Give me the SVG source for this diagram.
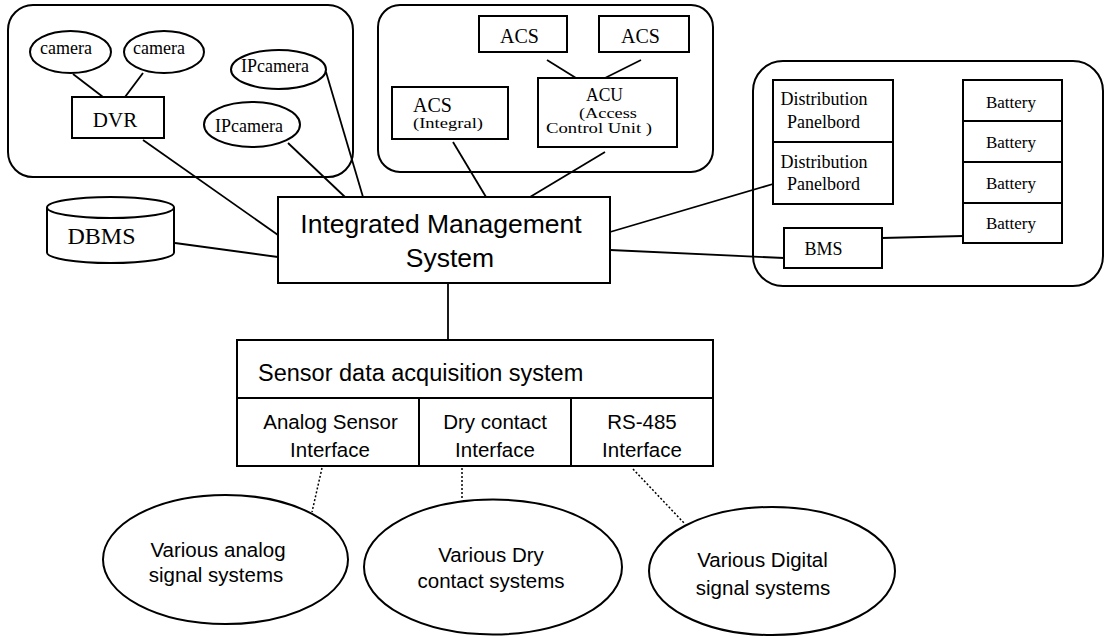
<svg xmlns="http://www.w3.org/2000/svg" width="1109" height="636" viewBox="0 0 1109 636">
<style>
.box{fill:#fff;stroke:#000;stroke-width:2}
.grp{fill:none;stroke:#000;stroke-width:2}
.ln{stroke:#000;stroke-width:1.8;fill:none}
.dot{stroke:#000;stroke-width:1.5;stroke-dasharray:2 2;fill:none}
.serif{font-family:"Liberation Serif","Times New Roman",serif;fill:#000}
.sans{font-family:"Liberation Sans",Arial,sans-serif;fill:#000}
</style>
<rect width="1109" height="636" fill="#fff"/>
<g id="group-video"><rect class="grp" x="8" y="5" width="345" height="172" rx="25"/></g>
<g id="group-access"><rect class="grp" x="378" y="5" width="335" height="167" rx="22"/></g>
<g id="group-power"><rect class="grp" x="753" y="61" width="350" height="225" rx="30"/></g>
<g id="connectors">
<line class="ln" x1="73" y1="74" x2="103" y2="97"/>
<line class="ln" x1="143" y1="73" x2="125" y2="97"/>
<line class="ln" x1="143" y1="140" x2="278" y2="235"/>
<line class="ln" x1="288" y1="143" x2="345" y2="197"/>
<line class="ln" x1="326" y1="72" x2="363" y2="197"/>
<line class="ln" x1="547" y1="60" x2="576" y2="78"/>
<line class="ln" x1="641" y1="60" x2="605" y2="78"/>
<line class="ln" x1="453" y1="142" x2="486" y2="197"/>
<line class="ln" x1="605" y1="152" x2="530" y2="197"/>
<line class="ln" x1="610" y1="232" x2="773" y2="184"/>
<line class="ln" x1="610" y1="250" x2="784" y2="258"/>
<line class="ln" x1="882" y1="238" x2="963" y2="236"/>
<line class="ln" x1="175" y1="243" x2="278" y2="257"/>
<line class="ln" x1="448" y1="283" x2="448" y2="340"/>
<line class="dot" x1="322" y1="468" x2="312" y2="512"/>
<line class="dot" x1="462" y1="468" x2="462" y2="500"/>
<line class="dot" x1="633" y1="469" x2="684" y2="523"/>
</g>
<g id="camera1"><ellipse class="box" cx="70.5" cy="52" rx="40.5" ry="21"/><text class="serif" x="66" y="54" font-size="18" text-anchor="middle">camera</text></g>
<g id="camera2"><ellipse class="box" cx="164" cy="52" rx="40" ry="21"/><text class="serif" x="159" y="54" font-size="18" text-anchor="middle">camera</text></g>
<g id="ipcamera1"><ellipse class="box" cx="278.5" cy="69.5" rx="47.5" ry="19.5"/><text class="serif" x="275" y="72" font-size="18" text-anchor="middle">IPcamera</text></g>
<g id="ipcamera2"><ellipse class="box" cx="252" cy="124.5" rx="48" ry="22.5"/><text class="serif" x="249" y="132" font-size="18" text-anchor="middle">IPcamera</text></g>
<g id="dvr"><rect class="box" x="72" y="97" width="92" height="41"/><text class="serif" x="115" y="127" font-size="21" text-anchor="middle">DVR</text></g>
<g id="acs1"><rect class="box" x="479" y="16" width="88" height="36"/><text class="serif" x="519.5" y="43" font-size="20" text-anchor="middle">ACS</text></g>
<g id="acs2"><rect class="box" x="599" y="16" width="90" height="36"/><text class="serif" x="640.5" y="43" font-size="20" text-anchor="middle">ACS</text></g>
<g id="acs-integral"><rect class="box" x="392" y="87" width="116" height="52"/><text class="serif" x="413" y="112" font-size="20">ACS</text><text class="serif" x="413" y="128" font-size="15.5" textLength="70" lengthAdjust="spacingAndGlyphs">(Integral)</text></g>
<g id="acu"><rect class="box" x="538" y="78" width="139" height="69"/><text class="serif" x="586" y="101" font-size="18" textLength="37" lengthAdjust="spacingAndGlyphs">ACU</text><text class="serif" x="579" y="118" font-size="15.5" textLength="58" lengthAdjust="spacingAndGlyphs">(Access</text><text class="serif" x="546" y="133" font-size="15.5" textLength="106" lengthAdjust="spacingAndGlyphs">Control Unit )</text></g>
<g id="dbms"><path class="box" d="M47,207.5 L47,252.5 A63.5,10.5 0 0 0 174,252.5 L174,207.5"/><ellipse class="box" cx="110.5" cy="207.5" rx="63.5" ry="10.5"/><text class="serif" x="101.5" y="244" font-size="24" text-anchor="middle">DBMS</text></g>
<g id="ims"><rect class="box" x="278" y="197" width="332" height="86"/><text class="sans" x="441" y="233" font-size="26.5" text-anchor="middle">Integrated Management</text><text class="sans" x="450" y="267" font-size="26.5" text-anchor="middle">System</text></g>
<g id="distribution1"><rect class="box" x="773" y="80" width="120" height="62"/><text class="serif" x="824" y="105" font-size="18" text-anchor="middle">Distribution</text><text class="serif" x="823.5" y="128" font-size="18" text-anchor="middle">Panelbord</text></g>
<g id="distribution2"><rect class="box" x="773" y="142" width="120" height="62"/><text class="serif" x="824" y="168" font-size="18" text-anchor="middle">Distribution</text><text class="serif" x="823.5" y="190" font-size="18" text-anchor="middle">Panelbord</text></g>
<g id="battery1"><rect class="box" x="963" y="80" width="99" height="41"/><text class="serif" x="1011" y="108" font-size="17" text-anchor="middle">Battery</text></g>
<g id="battery2"><rect class="box" x="963" y="121" width="99" height="41"/><text class="serif" x="1011" y="148" font-size="17" text-anchor="middle">Battery</text></g>
<g id="battery3"><rect class="box" x="963" y="162" width="99" height="41"/><text class="serif" x="1011" y="189" font-size="17" text-anchor="middle">Battery</text></g>
<g id="battery4"><rect class="box" x="963" y="203" width="99" height="40"/><text class="serif" x="1011" y="229" font-size="17" text-anchor="middle">Battery</text></g>
<g id="bms"><rect class="box" x="784" y="228" width="98" height="40"/><text class="serif" x="823.5" y="255" font-size="18" text-anchor="middle">BMS</text></g>
<g id="sensor-das"><rect class="box" x="237" y="340" width="476" height="58"/><text class="sans" x="258" y="381" font-size="23.5">Sensor data acquisition system</text></g>
<g id="analog-if"><rect class="box" x="237" y="398" width="182" height="68"/><text class="sans" x="330.5" y="429" font-size="20.5" text-anchor="middle">Analog Sensor</text><text class="sans" x="330" y="457" font-size="20.5" text-anchor="middle">Interface</text></g>
<g id="dry-if"><rect class="box" x="419" y="398" width="152" height="68"/><text class="sans" x="495" y="429" font-size="20.5" text-anchor="middle">Dry contact</text><text class="sans" x="495" y="457" font-size="20.5" text-anchor="middle">Interface</text></g>
<g id="rs485-if"><rect class="box" x="571" y="398" width="142" height="68"/><text class="sans" x="642" y="429" font-size="20.5" text-anchor="middle">RS-485</text><text class="sans" x="642" y="457" font-size="20.5" text-anchor="middle">Interface</text></g>
<g id="analog-systems"><ellipse class="box" cx="225.5" cy="559.5" rx="122.5" ry="64.5"/><text class="sans" x="218" y="557" font-size="20.5" text-anchor="middle">Various analog</text><text class="sans" x="216" y="582" font-size="20.5" text-anchor="middle">signal systems</text></g>
<g id="dry-systems"><ellipse class="box" cx="493" cy="567" rx="129" ry="67.5"/><text class="sans" x="491" y="562" font-size="20.5" text-anchor="middle">Various Dry</text><text class="sans" x="491" y="588" font-size="20.5" text-anchor="middle">contact systems</text></g>
<g id="digital-systems"><ellipse class="box" cx="772" cy="571" rx="123" ry="64"/><text class="sans" x="762.5" y="567" font-size="20.5" text-anchor="middle">Various Digital</text><text class="sans" x="763" y="595" font-size="20.5" text-anchor="middle">signal systems</text></g>
</svg>
